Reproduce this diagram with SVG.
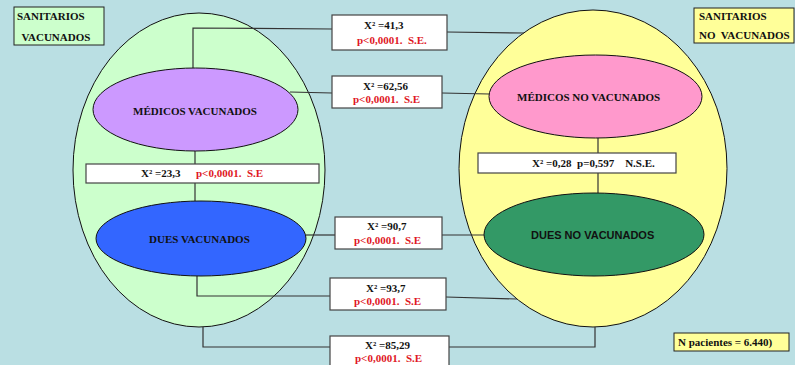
<svg xmlns="http://www.w3.org/2000/svg" width="795" height="365" viewBox="0 0 795 365">
<style>
text{font-family:"Liberation Serif","Times New Roman",serif;font-weight:bold;font-size:11px;fill:#111;white-space:pre}
.red{fill:#E0171F}
.sans{font-family:"Liberation Sans",Arial,sans-serif}
.box{fill:#fff;stroke:#444;stroke-width:1.2}
.ell{stroke:#111;stroke-width:1}
.con{fill:none;stroke:#333;stroke-width:1.2}
</style>
<rect x="0" y="0" width="795" height="365" fill="#BADFE3"/>
<g id="group-vacunados"><ellipse class="ell" cx="199" cy="170" rx="126" ry="157" fill="#CCFFCC"/></g>
<g id="group-no-vacunados"><ellipse class="ell" cx="593" cy="168.5" rx="134" ry="158.5" fill="#FFFF99"/></g>
<g id="connectors">
<polyline class="con" points="193,68 193,28 332,29"/>
<line class="con" x1="447" y1="32" x2="524" y2="33"/>
<line class="con" x1="290" y1="92" x2="332" y2="93"/>
<line class="con" x1="442" y1="93" x2="489" y2="94"/>
<line class="con" x1="195" y1="151" x2="195" y2="164"/>
<line class="con" x1="195" y1="183" x2="195" y2="201"/>
<line class="con" x1="598" y1="138" x2="598" y2="153"/>
<line class="con" x1="598" y1="173" x2="598" y2="193"/>
<line class="con" x1="306" y1="235" x2="335" y2="235"/>
<line class="con" x1="442" y1="235" x2="484" y2="235"/>
<polyline class="con" points="197,276 197,296 330,296"/>
<line class="con" x1="446" y1="297" x2="517" y2="299"/>
<polyline class="con" points="203,327 203,347 330,347"/>
<polyline class="con" points="449,347 595,347 595,327"/>
</g>
<g id="medicos-vacunados"><ellipse class="ell" cx="195.5" cy="109.5" rx="102.5" ry="41.5" fill="#CC99FF"/><text x="133" y="115">MÉDICOS VACUNADOS</text></g>
<g id="dues-vacunados"><ellipse class="ell" cx="201" cy="238.5" rx="105" ry="37.5" fill="#3366FF"/><text x="149" y="243">DUES VACUNADOS</text></g>
<g id="medicos-no-vacunados"><ellipse class="ell" cx="595.5" cy="96.5" rx="106.5" ry="41.5" fill="#FF99CC"/><text x="517" y="101">MÉDICOS NO VACUNADOS</text></g>
<g id="dues-no-vacunados"><ellipse class="ell" cx="594" cy="234.5" rx="110" ry="41.5" fill="#339966"/><text class="sans" x="531" y="239">DUES NO VACUNADOS</text></g>
<g id="label-vacunados"><rect x="14" y="7" width="90" height="38" fill="#CCFFCC" stroke="#222" stroke-width="1"/><text x="17" y="19.5">SANITARIOS</text><text x="21.5" y="40.5">VACUNADOS</text></g>
<g id="label-no-vacunados"><rect x="694" y="8" width="100" height="35" fill="#FFFF99" stroke="#222" stroke-width="1"/><text x="699" y="19.5">SANITARIOS</text><text x="699" y="38.5">NO  VACUNADOS</text></g>
<g id="stat-41"><rect class="box" x="332" y="15" width="115" height="35"/><text x="364" y="29">X² =41,3</text><text class="red" x="357" y="44">p&lt;0,0001.  S.E.</text></g>
<g id="stat-62"><rect class="box" x="332" y="76" width="110" height="32"/><text x="363" y="90">X² =62,56</text><text class="red" x="353" y="103">p&lt;0,0001.  S.E</text></g>
<g id="stat-23"><rect class="box" x="86" y="164" width="233" height="19"/><text x="141" y="177">X² =23,3</text><text class="red" x="196" y="177">p&lt;0,0001.  S.E</text></g>
<g id="stat-028"><rect class="box" x="478" y="153" width="198" height="20"/><text x="532" y="167">X² =0,28  p=0,597    N.S.E.</text></g>
<g id="stat-90"><rect class="box" x="335" y="217" width="107" height="32"/><text x="367" y="230">X² =90,7</text><text class="red" x="354" y="244">p&lt;0,0001.  S.E</text></g>
<g id="stat-93"><rect class="box" x="330" y="278" width="116" height="32"/><text x="366" y="292">X² =93,7</text><text class="red" x="354" y="305">p&lt;0,0001.  S.E</text></g>
<g id="stat-85"><rect class="box" x="330" y="336" width="119" height="34"/><text x="365" y="349">X² =85,29</text><text class="red" x="355" y="362">p&lt;0,0001.  S.E</text></g>
<g id="n-pacientes"><rect x="674" y="333" width="115" height="18" fill="#FFFF99" stroke="#222" stroke-width="1"/><text x="678" y="346">N pacientes = 6.440)</text></g>
</svg>
